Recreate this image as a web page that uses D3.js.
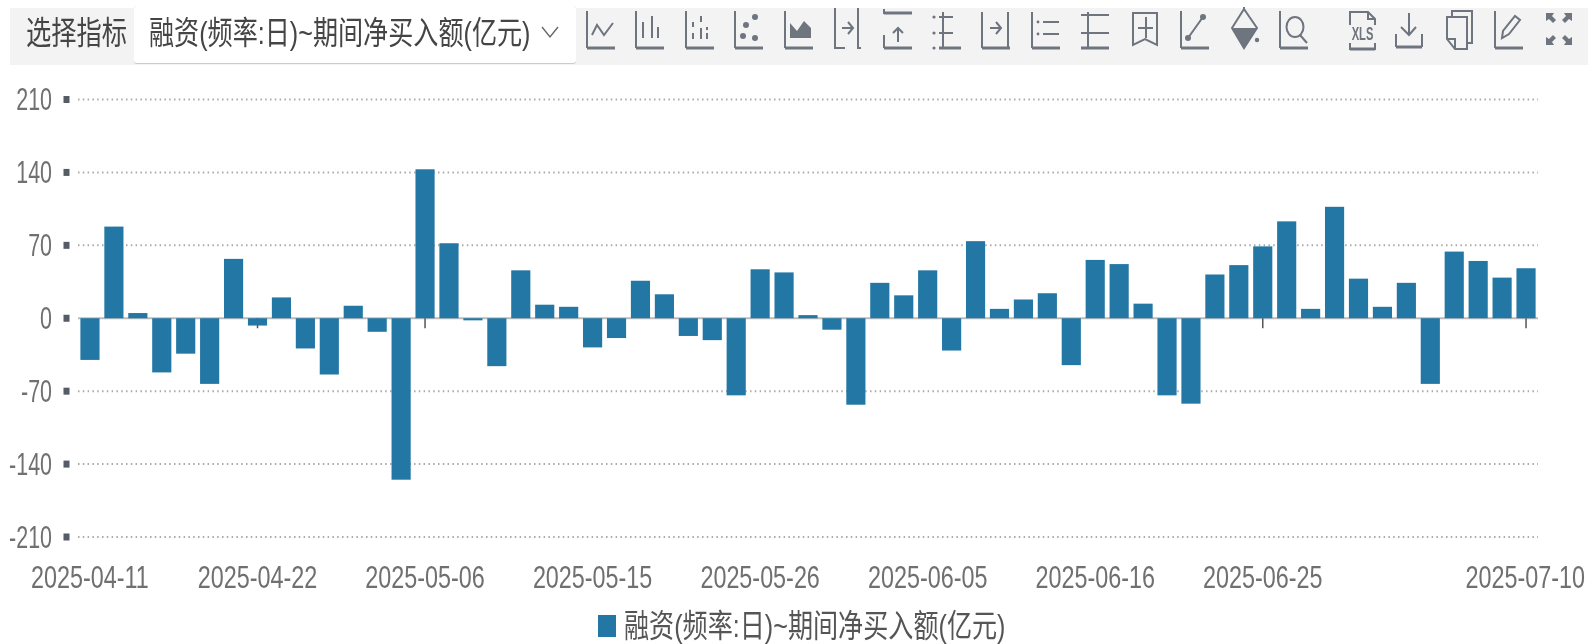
<!DOCTYPE html>
<html><head><meta charset="utf-8">
<script src="https://cdn.jsdelivr.net/npm/d3@7"></script>
<style>
html,body{margin:0;padding:0;background:#fff;overflow:hidden}
text{font-family:"Liberation Sans","Noto Sans CJK SC",sans-serif}
</style></head><body><svg id="c" width="1589" height="644"></svg>
<script>
const dates=["2025-04-11","2025-04-14","2025-04-15","2025-04-16","2025-04-17","2025-04-18","2025-04-21","2025-04-22","2025-04-23","2025-04-24","2025-04-25","2025-04-28","2025-04-29","2025-04-30","2025-05-06","2025-05-07","2025-05-08","2025-05-09","2025-05-12","2025-05-13","2025-05-14","2025-05-15","2025-05-16","2025-05-19","2025-05-20","2025-05-21","2025-05-22","2025-05-23","2025-05-26","2025-05-27","2025-05-28","2025-05-29","2025-05-30","2025-06-03","2025-06-04","2025-06-05","2025-06-06","2025-06-09","2025-06-10","2025-06-11","2025-06-12","2025-06-13","2025-06-16","2025-06-17","2025-06-18","2025-06-19","2025-06-20","2025-06-23","2025-06-24","2025-06-25","2025-06-26","2025-06-27","2025-06-30","2025-07-01","2025-07-02","2025-07-03","2025-07-04","2025-07-07","2025-07-08","2025-07-09","2025-07-10"];
const values=[-40,88,5,-52,-34,-63,57,-7,20,-29,-54,12,-13,-155,143,72,-2,-46,46,13,11,-28,-19,36,23,-17,-21,-74,47,44,3,-11,-83,34,22,46,-31,74,9,18,24,-45,56,52,14,-74,-82,42,51,69,93,9,107,38,11,34,-63,64,55,39,48];
const yTicks=[210,140,70,0,-70,-140,-210];
const xLabels=["2025-04-11","2025-04-22","2025-05-06","2025-05-15","2025-05-26","2025-06-05","2025-06-16","2025-06-25","2025-07-10"];
const xMarks=["2025-05-06","2025-06-25","2025-07-10","2025-04-22"];
const seriesName="融资(频率:日)~期间净买入额(亿元)";
const pickLabel="选择指标";

const BAR="#2277a4",GREY="#6f6f6f",ICON="#6e747e";
const svg=d3.select("#c");
const defs=svg.append("defs");
defs.append("filter").attr("id","soft").append("feGaussianBlur").attr("stdDeviation",0.6);
const root=svg.append("g").attr("filter","url(#soft)");

const x=d3.scaleBand().domain(dates).range([78,1538]).paddingInner(0.2).paddingOuter(0.1);
const y=d3.scaleLinear().domain([-210,210]).range([537,99.5]);

function label(g,str,px,py,size,anchor,sx,fill){
  return g.append("text").attr("transform",`translate(${px},${py}) scale(${sx},1)`)
    .attr("text-anchor",anchor).attr("font-size",size).attr("fill",fill).text(str);
}
// toolbar
root.append("rect").attr("x",10).attr("y",8).attr("width",1578).attr("height",57).attr("fill","#f3f3f3");
root.append("rect").attr("x",134).attr("y",6).attr("width",442).attr("height",58).attr("rx",3).attr("fill","#ccc");
root.append("rect").attr("x",134).attr("y",6).attr("width",442).attr("height",57).attr("rx",3).attr("fill","#fff");
label(root,pickLabel,26,44,32,"start",.79,"#444");
label(root,seriesName,149,44,32,"start",.785,"#444");
root.append("path").attr("d","M542,27 L550,37 L558,27").attr("fill","none").attr("stroke","#666").attr("stroke-width",1.4);

// y grid + ticks
const gy=root.append("g");
yTicks.forEach(t=>{
  gy.append("line").attr("x1",78).attr("x2",1538).attr("y1",y(t)).attr("y2",y(t))
   .attr("stroke",t===0?"#bbb":"#aaa").attr("stroke-width",2).attr("stroke-dasharray",t===0?null:"1.5 3.3");
  gy.append("rect").attr("x",63.5).attr("y",y(t)-3.5).attr("width",6).attr("height",7).attr("fill","#555b66");
  label(gy,String(t),52,y(t)+10.5,32,"end",.67,GREY);
});
// x ticks
xMarks.forEach(d=>{
  const cx=x(d)+x.bandwidth()/2;
  root.append("line").attr("x1",cx).attr("x2",cx).attr("y1",y(0)).attr("y2",y(0)+10).attr("stroke","#555").attr("stroke-width",1.5);
});
// bars
root.append("g").selectAll("rect").data(values).join("rect")
 .attr("x",(d,i)=>x(dates[i])).attr("width",x.bandwidth())
 .attr("y",d=>y(Math.max(0,d))).attr("height",d=>Math.abs(y(d)-y(0))).attr("fill",BAR);
// x labels
xLabels.forEach((d,i)=>{
  const last=i===xLabels.length-1;
  const cx=x(d)+x.bandwidth()/2;
  label(root,d,last?cx+59:cx,588,32,last?"end":"middle",.73,GREY);
});
// legend
root.append("rect").attr("x",598).attr("y",615).attr("width",18).attr("height",22).attr("fill",BAR);
label(root,seriesName,624,637,32,"start",.785,"#555");

// toolbar icons
const iconX=[601,650,700,749,799,848,898,947,996,1046,1095,1145,1195,1244,1294,1362,1409,1459,1509,1559];
const iconLines=[
 "M-14,-23V14 M-9,1L-4,-9L3,1L12,-11",
 "M-14,-23V14 M-7,4V-12 M2,4V-18 M8,4V-7",
 "M-14,-23V14 M-7,-12V-7 M-7,-1V5 M1,-18V-12 M1,-6V5 M7,-7V-4 M7,-1V5",
 "M-14,-23V14",
 "M-14,-23V14",
 "M-13,-26V14H-3 M10,-26V14H13 M-6,-6H5 M0,-12L5,-6L0,0",
 "M-14,-25V-21H14 M-14,1V14 M0,8V-6 M-5,-1L0,-6L5,-1",
 "M-4,-22V14 M-8,-17H6 M-8,-1H6",
 "M-14,-22V14 M12,-22V14 M-6,-6H5 M0,-12L5,-6L0,0",
 "M-14,-22V14 M-3,-12H13 M-3,0H13",
 "M-7,-22V14 M-14,-19H14 M-14,-1H14",
 "M-12,-21H12V11L0,5L-12,11Z M1,-17V4 M-7,-6H8",
 "M-14,-23V14 M-7,4L8,-17",
 "M0,-27V-25 M0,-25L-12,-6L0,14L13,-6Z",
 "M-14,-23V14 M6,1L13,9",
 "M-12,-9V-22H6L13,-15V-9 M-12,9V15H13V9 M6,-22V-15H13",
 "M0,-21V1 M-8,-7L0,1L7,-7 M-13,0V13 M13,0V13",
 "M-12,-17H8V15H-4L-12,5Z M-12,5H-4V15 M-7,-17V-23H13V9H8",
 "M-14,-23V14 M-7,4L-6,-3L6,-18L11,-14L0,0Z",
 ""
];
const iconBase=["M-14,14H14","M-14,14H14","M-14,14H14","M-14,14H14","M-14,14H14","","M-14,-21H14 M-14,14H14","M-8,14H14","M-14,14H14","M-14,14H14","M-14,14H14","","M-14,14H14","","M-14,14H14","M-12,15H13","M-13,13H13","","M-14,14H14",""];
const iconFill=["","","","","M-9,4V-11L-2,-3L5,-13L12,-6V4Z","","","","","","","","","M-12,-6H13L0,14Z","","","","","",
 "M-13,-21L-5,-21L-7,-18L-3,-14L-6,-11L-10,-15L-13,-13Z M13,-21L5,-21L7,-18L3,-14L6,-11L10,-15L13,-13Z M-13,11L-5,11L-7,8L-3,4L-6,1L-10,5L-13,3Z M13,11L5,11L7,8L3,4L6,1L10,5L13,3Z"];
const iconDots=[[],[],[],[[6,-17,3],[-3,-9,3],[-6,2,3],[6,4,3]],[],[],[],[[-13,-17,1.6],[-13,-1,1.6],[-13,14,1.6]],[],[[-8,-12,1.4],[-8,0,1.4]],[],[],[[-7,4,3],[8,-17,3]],[[13,6,2.2]],[],[],[],[],[],[]];
const ig=root.append("g").attr("fill","none").attr("stroke",ICON);
iconX.forEach((cx,i)=>{
  const g=ig.append("g").attr("transform",`translate(${cx},34)`);
  g.append("path").attr("d",iconLines[i]).attr("stroke-width",2);
  g.append("path").attr("d",iconBase[i]).attr("stroke-width",3);
  if(iconFill[i]) g.append("path").attr("d",iconFill[i]).attr("fill",ICON).attr("stroke","none");
  iconDots[i].forEach(p=>g.append("circle").attr("cx",p[0]).attr("cy",p[1]).attr("r",p[2]).attr("fill",ICON).attr("stroke","none"));
  if(i===14) g.append("ellipse").attr("cx",1).attr("cy",-7).attr("rx",8.5).attr("ry",10).attr("stroke-width",2);
  if(i===15) g.append("text").attr("transform","translate(0.5,6) scale(.62,1)").attr("text-anchor","middle").attr("font-size",18).attr("font-weight","bold").attr("fill",ICON).attr("stroke","none").text("XLS");
});
</script></body></html>
